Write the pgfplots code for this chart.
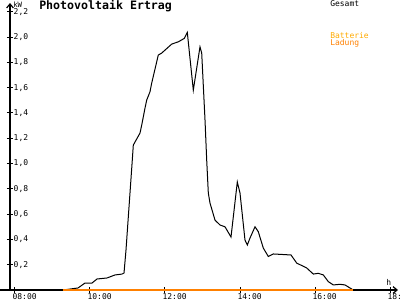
\documentclass[border=0pt]{standalone}
\usepackage{fontspec}
\setmainfont{DejaVu Sans Mono}
\usepackage{pgfplots}
\pgfplotsset{compat=1.18}
\usetikzlibrary{arrows.meta}
\definecolor{batt}{RGB}{255,170,0}
\definecolor{lad}{RGB}{255,128,0}
\begin{document}
\begin{tikzpicture}
\useasboundingbox (0pt,0pt) rectangle (300pt,225pt);
\begin{axis}[
  at={(7.5pt,7.5pt)}, anchor=south west,
  scale only axis, width=291pt, height=215.25pt,
  xmin=7.867, xmax=18.213, ymin=0, ymax=2.27,
  axis x line=bottom, axis y line=left,
  axis line style={line width=0.9pt, -{Straight Barb[length=3pt,width=5pt]}},
  tick align=center, major tick length=4.5pt,
  tick style={black, line width=0.75pt},
  xtick={8,10,12,14,16,18},
  xticklabels={08:00,10:00,12:00,14:00,16:00,18:},
  xticklabel style={anchor=north west, xshift=-2.5pt, yshift=0.6pt, inner sep=0.5pt},
  ytick={0.2,0.4,0.6,0.8,1.0,1.2,1.4,1.6,1.8,2.0,2.2},
  yticklabel style={anchor=west, xshift=1.5pt, /pgf/number format/.cd, use comma, fixed, fixed zerofill, precision=1},
  /pgf/number format/assume math mode=true,
  tick label style={font=\fontsize{6}{6.5}\selectfont},
  clip=false,
]
\draw[line width=0.9pt] (axis cs:7.6,0) -- (axis cs:7.867,0);
\addplot[black, line width=0.75pt] coordinates {
(9.28,0) (9.68,0.016) (9.867,0.055) (10.053,0.055) (10.187,0.087) (10.453,0.095)
(10.667,0.119) (10.853,0.126) (10.907,0.134) (10.96,0.316) (11.128,1.028)
(11.155,1.146) (11.333,1.241) (11.379,1.304) (11.467,1.439) (11.512,1.502)
(11.6,1.568) (11.645,1.636) (11.821,1.858) (11.912,1.874) (12.179,1.945)
(12.355,1.963) (12.515,1.990) (12.595,2.037) (12.755,1.581) (12.933,1.923)
(12.979,1.874) (13.067,1.344) (13.112,1.028) (13.155,0.767) (13.2,0.688)
(13.333,0.553) (13.467,0.514) (13.6,0.500) (13.76,0.419) (13.928,0.854)
(14.0,0.767) (14.133,0.395) (14.195,0.356) (14.267,0.411) (14.4,0.500)
(14.488,0.461) (14.621,0.332) (14.755,0.265) (14.888,0.285) (15.36,0.277)
(15.512,0.213) (15.779,0.174) (15.955,0.126) (16.088,0.132) (16.221,0.119)
(16.355,0.066) (16.488,0.040) (16.667,0.045) (16.8,0.040) (17.02,0)
};
\addplot[lad, line width=1pt] coordinates {(9.28,0) (17.02,0)};
\end{axis}
\node[anchor=base west, inner sep=0pt, font=\bfseries\fontsize{8.7}{10}\selectfont] at (29.25pt,217.5pt) {Photovoltaik Ertrag};
\node[anchor=base west, inner sep=0pt, font=\fontsize{6}{7}\selectfont] at (247.5pt,219.75pt) {Gesamt};
\node[anchor=base west, inner sep=0pt, font=\fontsize{6}{7}\selectfont, text=batt] at (247.5pt,196.3pt) {Batterie};
\node[anchor=base west, inner sep=0pt, font=\fontsize{6}{7}\selectfont, text=lad] at (247.5pt,190.5pt) {Ladung};
\node[anchor=base west, inner sep=0pt, font=\fontsize{5.5}{6}\selectfont] at (9.75pt,219pt) {kW};
\node[anchor=base west, inner sep=0pt, font=\fontsize{6}{7}\selectfont] at (289.5pt,10.5pt) {h};
\end{tikzpicture}
\end{document}
